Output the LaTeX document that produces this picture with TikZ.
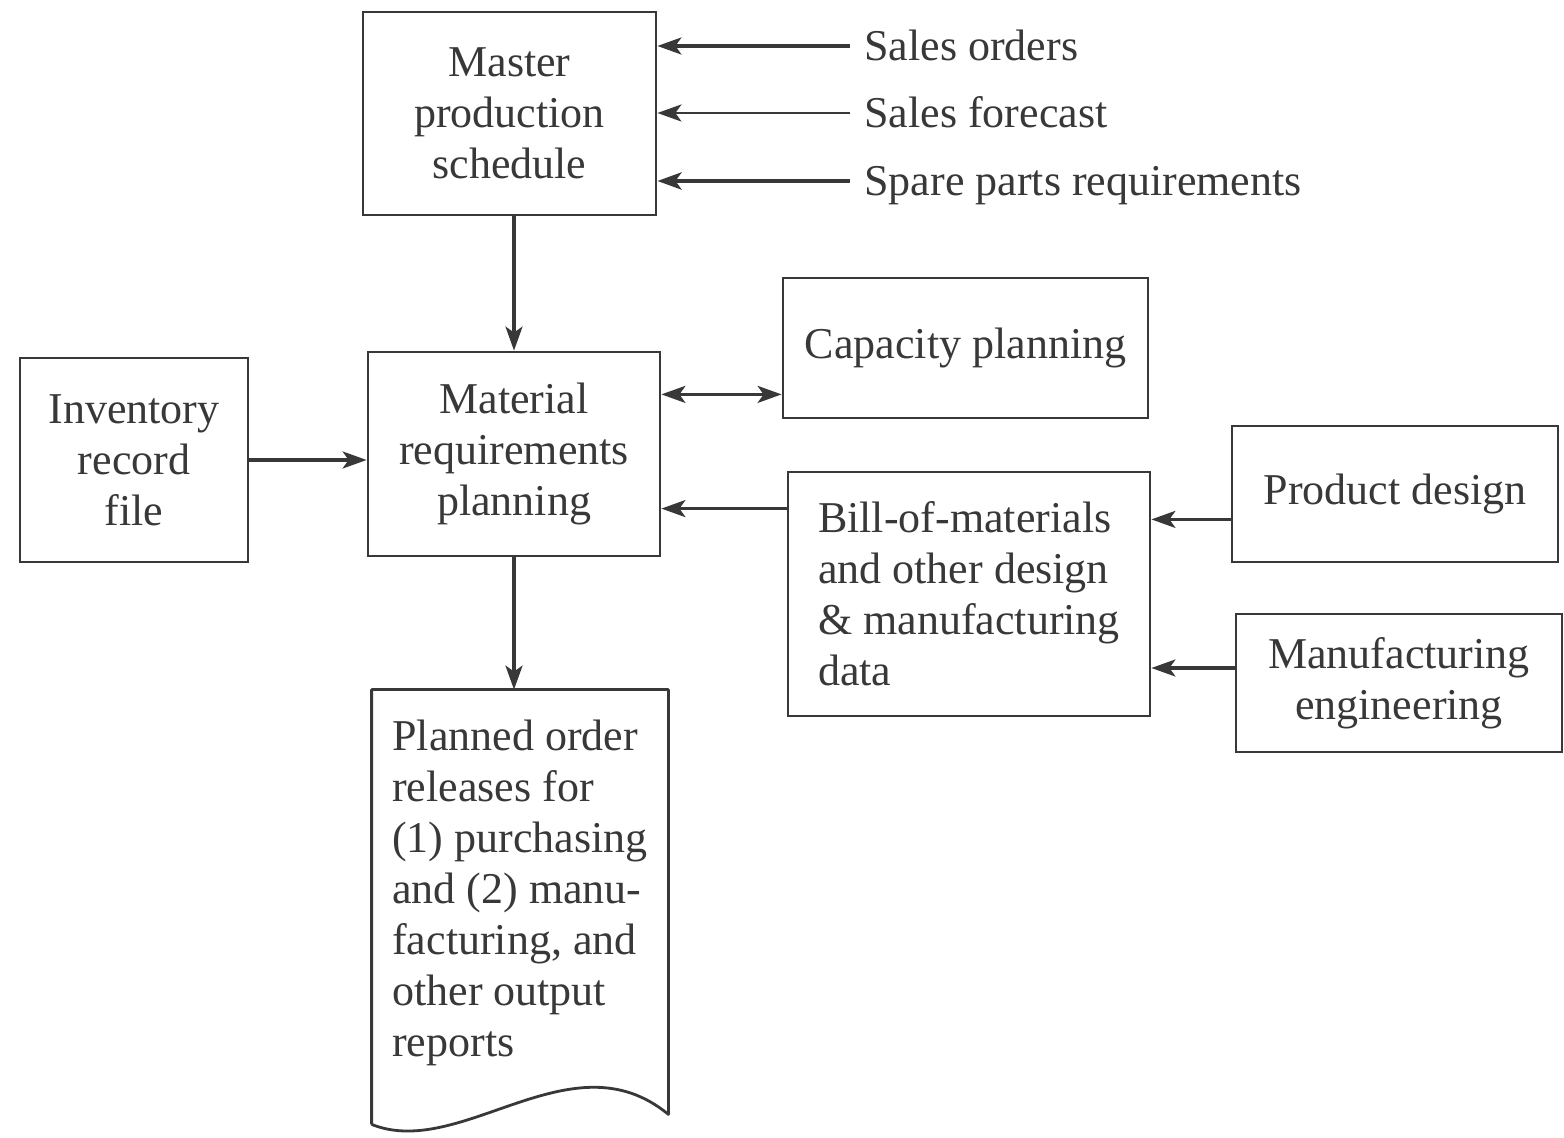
\documentclass[tikz,border=0pt]{standalone}
\usepackage{fontspec}
\setmainfont{Liberation Serif}
\usetikzlibrary{arrows.meta,calc}
\definecolor{ink}{HTML}{383838}
\begin{document}
\begin{tikzpicture}[x=0.5pt,y=-0.5pt,
  every node/.style={font=\fontsize{22}{25.5}\selectfont, text=ink},
  box/.style={draw=ink, line width=1.4pt, align=center, inner sep=0pt},
  tip/.tip={Stealth[length=12pt,width=8.5pt,inset=3pt]},
  arr/.style={draw=ink, line width=1.6pt, -tip},
  dblarr/.style={draw=ink, line width=1.6pt, tip-tip},
  lbl/.style={anchor=west, text height=15pt, text depth=0pt, inner xsep=7pt}]

% canvas
\fill[white] (0,0) rectangle (1564,1138);
\useasboundingbox (0,0) rectangle (1564,1138);

% blocks
\node[box, minimum width=146.5pt, minimum height=101.5pt] (mps) at (509.5,113.5) {Master\\production\\schedule};
\node[box, minimum width=146pt, minimum height=102pt] (mrp) at (514,454) {Material\\requirements\\planning};
\node[box, minimum width=114pt, minimum height=102pt] (inv) at (134,460) {Inventory\\record\\file};
\node[box, minimum width=182.5pt, minimum height=70pt] (cap) at (965.5,348) {Capacity planning};
\node[box, align=left, minimum width=181pt, minimum height=122pt] (bom) at (969,594) {Bill-of-materials\\and other design\\\& manufacturing\\data};
\node[box, minimum width=163pt, minimum height=68pt] (pd) at (1395,494) {Product design};
\node[box, minimum width=163pt, minimum height=69pt] (me) at (1399,683) {Manufacturing\\engineering};

% output document with wavy lower edge
\node[align=left, minimum width=148pt, minimum height=203pt, inner sep=0pt] (doc) at (520,893)
  {Planned order\\releases for\\(1) purchasing\\and (2) manu-\\facturing, and\\other output\\reports};
\draw[draw=ink, line width=1.4pt, line join=round]
  ($(doc.south west)+(0,28)$) -- (doc.north west) -- (doc.north east) -- ($(doc.south east)+(0,18)$)
  .. controls ($(doc.south west)+(200,-62)$) and ($(doc.south west)+(90,64)$) .. ($(doc.south west)+(0,28)$);

% inputs to the master schedule
\node[lbl] (so) at (850,46) {Sales orders};
\node[lbl] (sf) at (850,113) {Sales forecast};
\node[lbl] (sp) at (850,181) {Spare parts requirements};
\draw[arr] (so.west) -- (so.west -| mps.east);
\draw[arr, line width=1.2pt] (sf.west) -- (sf.west -| mps.east);
\draw[arr, line width=2.2pt] (sp.west) -- (sp.west -| mps.east);

% connectors
\draw[arr] (mrp.north |- mps.south) -- (mrp.north);
\draw[arr] (inv.east) -- (inv.east -| mrp.west);
\coordinate (capin) at ($(cap.south west)+(0,-25)$);
\draw[dblarr] (mrp.east |- capin) -- (capin);
\coordinate (bomout) at ($(bom.north west)+(0,38)$);
\draw[arr] (bomout) -- (bomout -| mrp.east);
\coordinate (pdout) at ($(pd.south west)+(0,-44)$);
\draw[arr] (pdout) -- (pdout -| bom.east);
\coordinate (meout) at ($(me.west)+(0,-15)$);
\draw[arr] (meout) -- (meout -| bom.east);
\draw[arr] (mrp.south) -- (mrp.south |- doc.north);
\end{tikzpicture}
\end{document}
